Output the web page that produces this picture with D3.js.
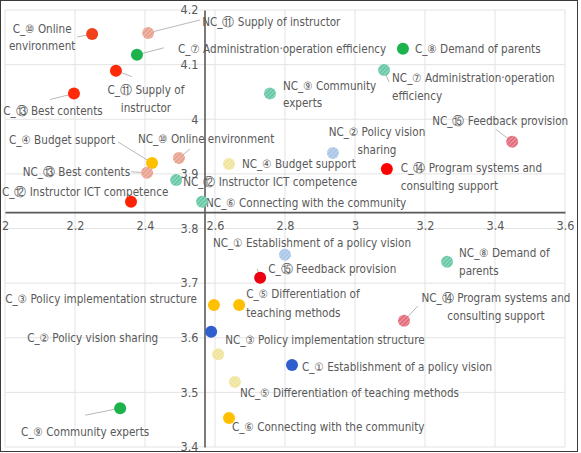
<!DOCTYPE html>
<html><head><meta charset="utf-8">
<script src="https://cdn.jsdelivr.net/npm/d3@7"></script>
<style>
html,body{margin:0;padding:0;background:#fff;}
svg{display:block;}
</style></head>
<body>
<svg id="chart" width="581" height="453"></svg>
<script>
// ---- data ----
const categories = [
  "Establishment of a policy vision",
  "Policy vision sharing",
  "Policy implementation structure",
  "Budget support",
  "Differentiation of teaching methods",
  "Connecting with the community",
  "Administration·operation efficiency",
  "Demand of parents",
  "Community experts",
  "Online environment",
  "Supply of instructor",
  "Instructor ICT competence",
  "Best contents",
  "Program systems and consulting support",
  "Feedback provision"
];
const numbers = ["①","②","③","④","⑤","⑥","⑦","⑧","⑨","⑩","⑪","⑫","⑬","⑭","⑮"];
const cX  = [2.82, 2.589, 2.597, 2.42, 2.669, 2.64, 2.377, 3.137, 2.329, 2.249, 2.317, 2.36, 2.197, 3.091, 2.729];
const cY  = [3.55, 3.611, 3.66, 3.92, 3.66, 3.453, 4.118, 4.129, 3.471, 4.156, 4.089, 3.849, 4.047, 3.909, 3.71];
const ncX = [2.8, 2.937, 2.609, 2.64, 2.657, 2.563, 3.083, 3.263, 2.757, 2.497, 2.409, 2.489, 2.406, 3.14, 3.449];
const ncY = [3.752, 3.938, 3.57, 3.918, 3.519, 3.849, 4.09, 3.739, 4.047, 3.929, 4.158, 3.889, 3.902, 3.631, 3.959];
const xTicks = [2, 2.2, 2.4, 2.6, 2.8, 3, 3.2, 3.4, 3.6];
const yTicks = [3.4, 3.5, 3.6, 3.7, 3.8, 3.9, 4, 4.1, 4.2];
const xCross = 2.57, yCross = 3.83;

// ---- styles ----
const cColors = ["#2f5fcf","#2f5fcf","#ffc000","#ffc000","#ffc000","#ffc000","#1db34c","#1db34c","#1db34c",
                 "#f2401c","#ff2a08","#ff2200","#ff2a08","#ff0000","#ee0010"];
const ncColors = ["#a9c6e8","#a9c6e8","#f0e49c","#f0e49c","#f0e49c","#66c8a4","#66c8a4","#66c8a4","#66c8a4",
                  "#e9a08c","#e9a08c","#66c8a4","#e9a08c","#e36b7a","#e36b7a"];
// label layout (pixel offsets from the marker)
const cLabelLayout = [
  {dx:10, dy:2, a:"start"},
  {dx:-53, dy:6, a:"end"},
  {dx:-17, dy:-6, a:"end"},
  {dx:-37, dy:-23, a:"end", lead:[-34,-21]},
  {dx:7, dy:-11, a:"start", br:"of", lh:19},
  {dx:3, dy:9, a:"start"},
  {dx:41, dy:-6, a:"start", lead:[27,-7]},
  {dx:12, dy:0, a:"start"},
  {dx:-35, dy:24, a:"middle", lead:[-35,7]},
  {dx:-50, dy:-5, a:"middle", br:"Online", lh:17, lead:[-15,3]},
  {dx:30, dy:19, a:"middle", br:"of", lh:18, lead:[16,6]},
  {dx:-129, dy:-10, a:"start"},
  {dx:-21, dy:17, a:"middle", lead:[-24,6]},
  {dx:14, dy:-1, a:"start", br:"and", lh:18},
  {dx:8, dy:-9, a:"start", lead:[-3,-9]}
];
const ncLabelLayout = [
  {dx:-72, dy:-12, a:"start"},
  {dx:44, dy:-21, a:"middle", br:"vision", lh:18},
  {dx:7, dy:-14, a:"start"},
  {dx:13, dy:0, a:"start"},
  {dx:5, dy:11, a:"start"},
  {dx:4, dy:1, a:"start"},
  {dx:8, dy:8, a:"start", br:"operation", lh:18, lead:[5,12]},
  {dx:12, dy:-9, a:"start", br:"of", lh:18},
  {dx:13, dy:-8, a:"start", br:"Community", lh:17},
  {dx:-41, dy:-19, a:"start", lead:[11,-9]},
  {dx:54, dy:-11, a:"start", lead:[52,-13]},
  {dx:7, dy:2, a:"start"},
  {dx:-17, dy:-1, a:"end", lead:[-16,-1]},
  {dx:92, dy:-23, a:"middle", br:"and", lh:18, lead:[14,-15]},
  {dx:-12, dy:-21, a:"middle", lead:[-16,-12]}
];

const W = 581, H = 453;
const svg = d3.select("#chart");
const x = d3.scaleLinear().domain([2, 3.6]).range([5, 565]);
const y = d3.scaleLinear().domain([3.4, 4.2]).range([447, 10]);

const FONT = "'Liberation Sans Narrow','DejaVu Sans Condensed','Roboto',sans-serif";
const TXT = "#595959";

// patterns for hatched (NC) markers
const defs = svg.append("defs");
const uniqNc = Array.from(new Set(ncColors));
uniqNc.forEach((c, i) => {
  const p = defs.append("pattern").attr("id", "hatch" + i)
    .attr("patternUnits", "userSpaceOnUse").attr("width", 3).attr("height", 3)
    .attr("patternTransform", "rotate(45)");
  p.append("rect").attr("width", 3).attr("height", 3).attr("fill", c);
  p.append("line").attr("x1", 0).attr("y1", 0).attr("x2", 0).attr("y2", 3)
    .attr("stroke", "#fff").attr("stroke-width", 0.9).attr("stroke-opacity", 0.75);
});
const hatchId = c => "url(#hatch" + uniqNc.indexOf(c) + ")";

// outer frame
svg.append("rect").attr("x", 0.5).attr("y", 0.5).attr("width", 577).attr("height", 451)
  .attr("fill", "#fff").attr("stroke", "#3a3a3a").attr("stroke-width", 1);

// gridlines
const grid = svg.append("g");
grid.selectAll("line.v").data(xTicks).join("line")
  .attr("x1", d => x(d)).attr("x2", d => x(d)).attr("y1", y(4.2)).attr("y2", y(3.4))
  .attr("stroke", "#e3e3e3").attr("stroke-width", 1);
grid.selectAll("line.h").data(yTicks).join("line")
  .attr("y1", d => y(d)).attr("y2", d => y(d)).attr("x1", x(2)).attr("x2", x(3.6))
  .attr("stroke", "#e3e3e3").attr("stroke-width", 1);

// axes crossing
const xAxis = d3.axisBottom(x).tickValues(xTicks).tickSize(0).tickPadding(9)
  .tickFormat(d3.format("~g"));
const gx = svg.append("g").attr("transform", `translate(0,${y(yCross)})`).call(xAxis);
gx.select(".domain").attr("stroke", "#595959").attr("stroke-width", 1.6);
gx.selectAll("text").attr("font-family", FONT).attr("font-size", 12.5).attr("fill", TXT);

const yAxis = d3.axisLeft(y).tickValues(yTicks).tickSize(0).tickPadding(6)
  .tickFormat(d3.format("~g"));
const gy = svg.append("g").attr("transform", `translate(${x(xCross)},0)`).call(yAxis);
gy.select(".domain").attr("stroke", "#595959").attr("stroke-width", 1.6);
gy.selectAll("text").attr("font-family", FONT).attr("font-size", 12.5).attr("fill", TXT)
  .attr("dy", "0.3em");

// build items
const items = [];
categories.forEach((cat, i) => {
  items.push({name: "C_" + numbers[i] + " " + cat, vx: cX[i], vy: cY[i], fill: cColors[i], lay: cLabelLayout[i]});
});
categories.forEach((cat, i) => {
  items.push({name: "NC_" + numbers[i] + " " + cat, vx: ncX[i], vy: ncY[i], fill: hatchId(ncColors[i]), lay: ncLabelLayout[i]});
});

// leader lines
svg.append("g").selectAll("line").data(items.filter(d => d.lay.lead)).join("line")
  .attr("x1", d => x(d.vx)).attr("y1", d => y(d.vy))
  .attr("x2", d => x(d.vx) + d.lay.lead[0]).attr("y2", d => y(d.vy) + d.lay.lead[1])
  .attr("stroke", "#a6a6a6").attr("stroke-width", 0.8);

// labels
const lab = svg.append("g").attr("font-family", FONT).attr("font-size", 11.6).attr("fill", TXT);
items.forEach(d => {
  const L = d.lay;
  let lines = [d.name];
  if (L.br) {
    const idx = d.name.indexOf(L.br) + L.br.length;
    lines = [d.name.slice(0, idx), d.name.slice(idx).trim()];
  }
  const t = lab.append("text")
    .attr("x", x(d.vx) + L.dx).attr("y", y(d.vy) + L.dy)
    .attr("text-anchor", L.a).attr("dominant-baseline", "middle");
  lines.forEach((ln, k) => {
    t.append("tspan").attr("x", x(d.vx) + L.dx)
      .attr("dy", k === 0 ? 0 : (L.lh || 18)).text(ln);
  });
});

// markers
svg.append("g").selectAll("circle").data(items).join("circle")
  .attr("cx", d => x(d.vx)).attr("cy", d => y(d.vy)).attr("r", 6)
  .attr("fill", d => d.fill);
</script>
</body></html>
